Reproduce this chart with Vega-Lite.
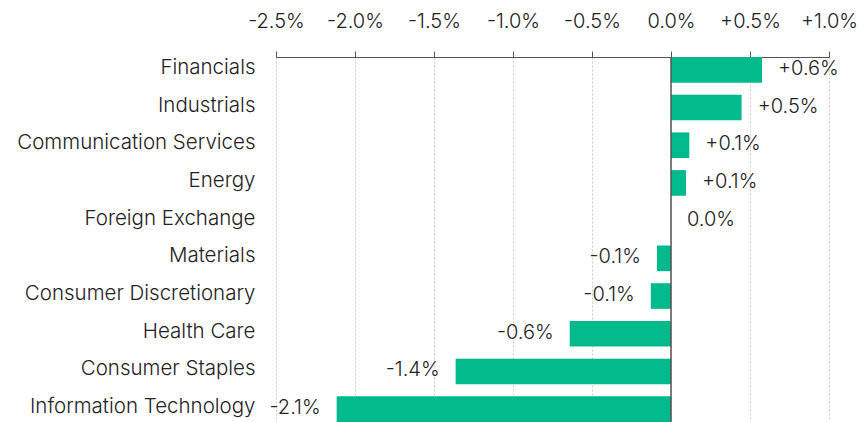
{
  "$schema": "https://vega.github.io/schema/vega-lite/v6.json",
  "width": 553,
  "height": 365,
  "autosize": "none",
  "padding": {"left": 276, "top": 57, "right": 33, "bottom": 0},
  "background": "white",
  "config": {"view": {"stroke": null}, "font": "Inter"},
  "data": {
    "values": [
      {"sector": "Financials", "value": 0.576, "label": "+0.6%"},
      {"sector": "Industrials", "value": 0.447, "label": "+0.5%"},
      {"sector": "Communication Services", "value": 0.116, "label": "+0.1%"},
      {"sector": "Energy", "value": 0.095, "label": "+0.1%"},
      {"sector": "Foreign Exchange", "value": 0.0, "label": "0.0%"},
      {"sector": "Materials", "value": -0.089, "label": "-0.1%"},
      {"sector": "Consumer Discretionary", "value": -0.128, "label": "-0.1%"},
      {"sector": "Health Care", "value": -0.641, "label": "-0.6%"},
      {"sector": "Consumer Staples", "value": -1.363, "label": "-1.4%"},
      {"sector": "Information Technology", "value": -2.116, "label": "-2.1%"}
    ]
  },
  "layer": [
    {
      "mark": {"type": "bar", "color": "#00BA8B"},
      "encoding": {
        "y": {
          "field": "sector", "type": "nominal", "sort": null,
          "scale": {"paddingInner": 0.32, "paddingOuter": 0},
          "axis": {"title": null, "domain": false, "ticks": false, "labelPadding": 21, "labelLimit": 320, "labelFontSize": 20.5, "labelColor": "#222", "labelFont": "Inter", "labelFontWeight": 300, "labelOffset": -2}
        },
        "x": {
          "field": "value", "type": "quantitative",
          "scale": {"domain": [-2.5, 1.0], "nice": false, "zero": false},
          "axis": {
            "orient": "top", "title": null,
            "values": [-2.5, -2, -1.5, -1, -0.5, 0, 0.5, 1],
            "labelExpr": "(datum.value < 0 ? '-' : datum.value > 0 ? '+' : '') + format(abs(datum.value), '.1f') + '%'",
            "labelFontSize": 20, "labelFont": "Inter", "labelFontWeight": 300, "labelColor": "#222",
            "labelPadding": 20, "labelOverlap": false, "labelFlush": false, "labelBound": false,
            "tickSize": 6, "tickColor": "#555", "domainColor": "#555",
            "gridColor": "#cccccc", "gridDash": [2, 2]
          }
        }
      }
    },
    {
      "transform": [{"filter": "datum.value >= 0"}],
      "mark": {"type": "text", "align": "left", "baseline": "middle", "dx": 16, "dy": -1, "fontSize": 20, "font": "Inter", "fontWeight": 300, "color": "#222"},
      "encoding": {
        "y": {"field": "sector", "type": "nominal", "sort": null},
        "x": {"field": "value", "type": "quantitative"},
        "text": {"field": "label"}
      }
    },
    {
      "transform": [{"filter": "datum.value < 0"}],
      "mark": {"type": "text", "align": "right", "baseline": "middle", "dx": -16, "dy": -1, "fontSize": 20, "font": "Inter", "fontWeight": 300, "color": "#222"},
      "encoding": {
        "y": {"field": "sector", "type": "nominal", "sort": null},
        "x": {"field": "value", "type": "quantitative"},
        "text": {"field": "label"}
      }
    },
    {
      "data": {"values": [{"z": 0}]},
      "mark": {"type": "rule", "color": "#555", "strokeWidth": 1.5},
      "encoding": {"x": {"field": "z", "type": "quantitative"}}
    }
  ]
}
